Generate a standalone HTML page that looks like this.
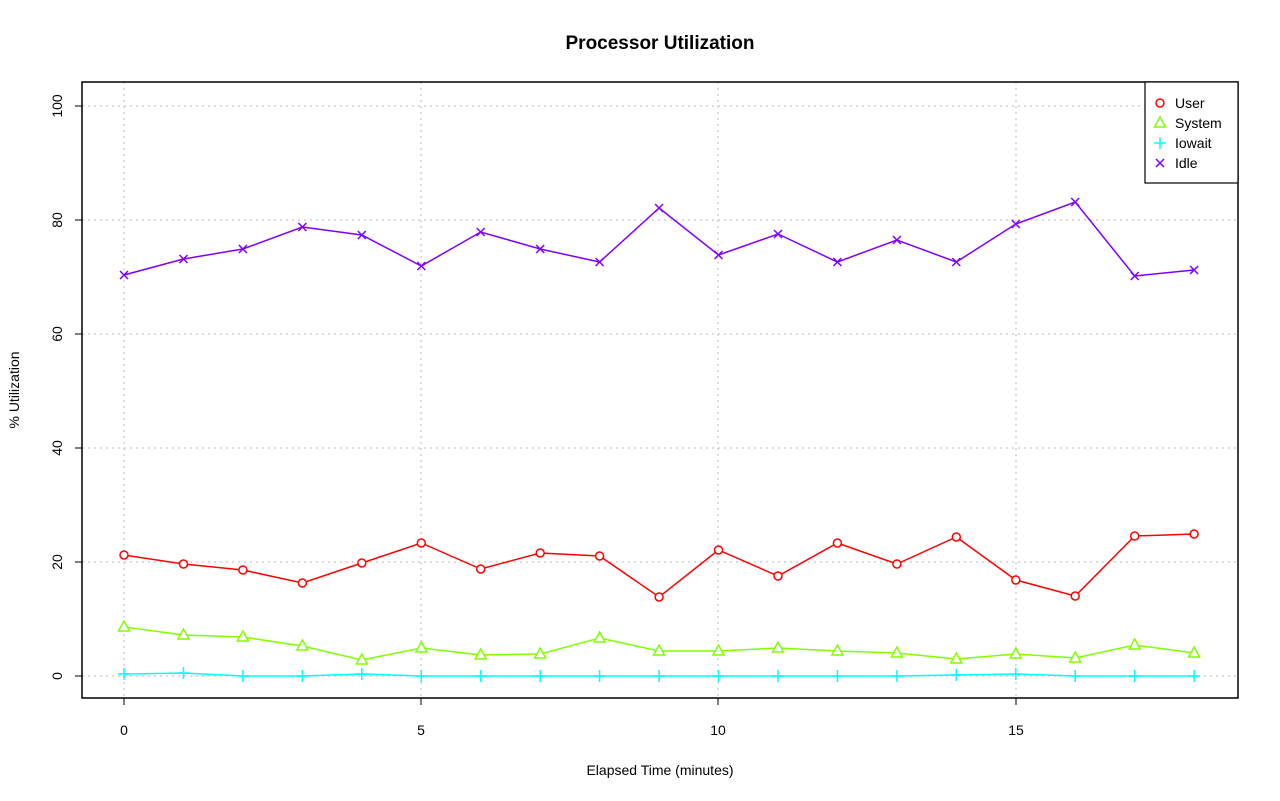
<!DOCTYPE html>
<html><head><style>body{margin:0;background:#fff}svg{display:block}</style></head><body>
<svg width="1280" height="801" xmlns="http://www.w3.org/2000/svg" font-family="Liberation Sans, sans-serif">
<defs>
<marker id="mu" markerUnits="userSpaceOnUse" markerWidth="14" markerHeight="14" refX="7" refY="7" overflow="visible"><circle cx="7" cy="7" r="4" fill="#fff" stroke="#f00" stroke-width="1.5"/></marker>
<marker id="ms" markerUnits="userSpaceOnUse" markerWidth="14" markerHeight="14" refX="7" refY="7" overflow="visible"><polygon points="7,1 12.5,11 1.5,11" fill="#fff" stroke="#80ff00" stroke-width="1.5"/></marker>
<marker id="mi" markerUnits="userSpaceOnUse" markerWidth="14" markerHeight="14" refX="7" refY="7" overflow="visible"><path d="M1,7h12M7,1v12" stroke="#00ffff" stroke-width="1.5" fill="none"/></marker>
<marker id="md" markerUnits="userSpaceOnUse" markerWidth="14" markerHeight="14" refX="7" refY="7" overflow="visible"><path d="M3,3l8,8M11,3l-8,8" stroke="#8000ff" stroke-width="1.5" fill="none"/></marker>
</defs>
<rect width="1280" height="801" fill="#fff"/>
<text x="660" y="49" text-anchor="middle" font-size="19" font-weight="bold">Processor Utilization</text>
<g stroke="#c8c8c8" stroke-dasharray="2,4" stroke-width="1.2">
<line x1="124" y1="82" x2="124" y2="698"/><line x1="421" y1="82" x2="421" y2="698"/><line x1="718" y1="82" x2="718" y2="698"/><line x1="1016" y1="82" x2="1016" y2="698"/>
<line x1="82" y1="676" x2="1238" y2="676"/><line x1="82" y1="562" x2="1238" y2="562"/><line x1="82" y1="448" x2="1238" y2="448"/><line x1="82" y1="334" x2="1238" y2="334"/><line x1="82" y1="220" x2="1238" y2="220"/><line x1="82" y1="106" x2="1238" y2="106"/>
</g>
<rect x="82" y="82" width="1156" height="616" fill="none" stroke="#000" stroke-width="1.5"/>
<g stroke="#000"><line x1="124" y1="698" x2="124" y2="705"/><line x1="421" y1="698" x2="421" y2="705"/><line x1="718" y1="698" x2="718" y2="705"/><line x1="1016" y1="698" x2="1016" y2="705"/>
<line x1="75" y1="676" x2="82" y2="676"/><line x1="75" y1="562" x2="82" y2="562"/><line x1="75" y1="448" x2="82" y2="448"/><line x1="75" y1="334" x2="82" y2="334"/><line x1="75" y1="220" x2="82" y2="220"/><line x1="75" y1="106" x2="82" y2="106"/></g>
<g font-size="14" text-anchor="middle"><text x="124" y="735">0</text><text x="421" y="735">5</text><text x="718" y="735">10</text><text x="1016" y="735">15</text>
<text x="660" y="775">Elapsed Time (minutes)</text>
<text transform="translate(62,676) rotate(-90)">0</text><text transform="translate(62,562) rotate(-90)">20</text><text transform="translate(62,448) rotate(-90)">40</text><text transform="translate(62,334) rotate(-90)">60</text><text transform="translate(62,220) rotate(-90)">80</text><text transform="translate(62,106) rotate(-90)">100</text>
<text transform="translate(19,390) rotate(-90)">% Utilization</text></g>
<g fill="none" stroke-width="1.5">
<polyline stroke="#f00" marker-start="url(#mu)" marker-mid="url(#mu)" marker-end="url(#mu)" points="124,555 183.5,564 242.9,570 302.4,583 361.8,563 421.3,543 480.7,569 540.2,553 599.6,556 659.1,597 718.5,550 778,576 837.4,543 896.9,564 956.3,537 1015.8,580 1075.2,596 1134.7,536 1194.1,534"/>
<polyline stroke="#80ff00" marker-start="url(#ms)" marker-mid="url(#ms)" marker-end="url(#ms)" points="124,627 183.5,635 242.9,637 302.4,646 361.8,660 421.3,648 480.7,655 540.2,654 599.6,638 659.1,651 718.5,651 778,648 837.4,651 896.9,653 956.3,659 1015.8,654 1075.2,658 1134.7,645 1194.1,653"/>
<polyline stroke="#00ffff" marker-start="url(#mi)" marker-mid="url(#mi)" marker-end="url(#mi)" points="124,674 183.5,673 242.9,676 302.4,676 361.8,674 421.3,676 480.7,676 540.2,676 599.6,676 659.1,676 718.5,676 778,676 837.4,676 896.9,676 956.3,675 1015.8,674 1075.2,676 1134.7,676 1194.1,676"/>
<polyline stroke="#8000ff" marker-start="url(#md)" marker-mid="url(#md)" marker-end="url(#md)" points="124,275 183.5,259 242.9,249 302.4,227 361.8,235 421.3,266 480.7,232 540.2,249 599.6,262 659.1,208 718.5,255 778,234 837.4,262 896.9,240 956.3,262 1015.8,224 1075.2,202 1134.7,276 1194.1,270"/>
</g>
<rect x="1145" y="82" width="93" height="101" fill="#fff" stroke="#000" stroke-width="1.2"/>
<g font-size="14"><text x="1175" y="108">User</text><text x="1175" y="128">System</text><text x="1175" y="148">Iowait</text><text x="1175" y="168">Idle</text></g>
<circle cx="1160" cy="103" r="4" fill="none" stroke="#f00" stroke-width="1.5"/>
<polygon points="1160,117 1165.5,127 1154.5,127" fill="none" stroke="#80ff00" stroke-width="1.5"/>
<path d="M1154,143h12M1160,137v12" stroke="#00ffff" stroke-width="1.5"/>
<path d="M1156,159l8,8M1164,159l-8,8" stroke="#8000ff" stroke-width="1.5"/>
</svg></body></html>
